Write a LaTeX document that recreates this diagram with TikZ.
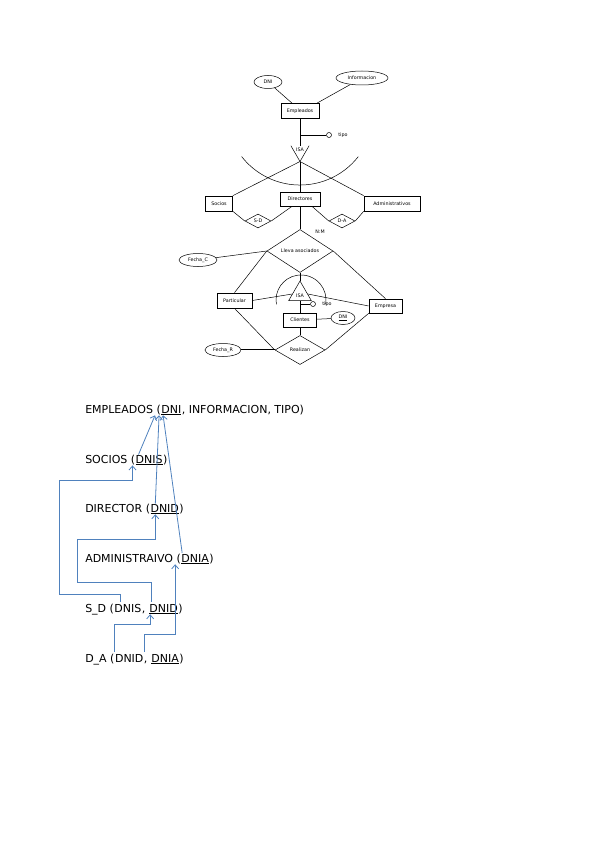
\documentclass[tikz,border=0pt]{standalone}
\usepackage{fontspec}
\setmainfont{DejaVu Sans}
\usetikzlibrary{shapes,arrows.meta,positioning,calc}
\definecolor{azul}{HTML}{4F81BD}
\newcommand{\ertext}{\fontsize{4.8}{5.5}\selectfont}
\newcommand{\reltext}{\fontsize{11}{13}\selectfont}
\tikzset{
  entidad/.style={draw, rectangle, inner sep=0.5pt, font=\ertext, line width=0.7pt},
  atributo/.style={draw, ellipse, inner sep=0.5pt, font=\ertext, line width=0.5pt},
  relacion/.style={draw, diamond, aspect=2, inner sep=0.5pt, font=\ertext, line width=0.5pt},
  jerarquia/.style={regular polygon, regular polygon sides=3, inner sep=0pt, font=\ertext, line width=0.5pt},
  tabla/.style={font=\reltext, inner sep=0pt, anchor=base west},
  fk/.style={draw=azul, line width=0.8pt, -{Straight Barb[length=4pt,width=7pt]}},
}

\begin{document}
\begin{tikzpicture}[x=1pt, y=-1pt, line width=0.5pt]
\useasboundingbox (0,0) rectangle (599,848);

% modelo entidad-relacion
\node[entidad, minimum width=38pt, minimum height=15pt] (emp) at (300,111) {Empleados};
\node[atributo, minimum width=28pt, minimum height=13pt] (dni) at (268,82) {DNI};
\node[atributo, minimum width=52pt, minimum height=14pt] (info) at (362,78) {Informacion};
\node[draw, circle, inner sep=0pt, minimum size=5pt] (tipo) at (329,135) {};
\node[font=\ertext, right=3pt of tipo] (tipot) {tipo};
\node[jerarquia, minimum size=20pt, shape border rotate=180] (isa) at (300,151) {};
\node[font=\ertext] (isat) at (300,150) {ISA};
\node[entidad, minimum width=27pt, minimum height=15pt] (soc) at (219,203.5) {Socios};
\node[entidad, minimum width=40pt, minimum height=14pt] (dir) at (300,199) {Directores};
\node[entidad, minimum width=56pt, minimum height=15pt] (adm) at (392,203.5) {Administrativos};
\node[relacion, minimum width=26pt, minimum height=14pt] (sd) at (258,221) {S-D};
\node[relacion, minimum width=26pt, minimum height=14pt] (da) at (342,221) {D-A};
\node[relacion, minimum width=66pt, minimum height=43pt] (lleva) at (300,251) {Lleva asociados};
\node[font=\ertext] (card) at (320,232) {N:M};
\node[atributo, minimum width=38pt, minimum height=13pt] (fechac) at (198,260) {Fecha\_C};
\node[jerarquia, draw, minimum size=26pt] (isab) at (300,294) {};
\node[font=\ertext] (isabt) at (300,296) {ISA};
\node[entidad, minimum width=35pt, minimum height=15pt] (part) at (234.5,300.5) {Particular};
\node[entidad, minimum width=33pt, minimum height=14pt] (empr) at (385.5,306) {Empresa};
\node[draw, circle, inner sep=0pt, minimum size=5pt] (tipob) at (313,304) {};
\node[font=\ertext, right=3pt of tipob] (tipobt) {tipo};
\node[entidad, minimum width=33pt, minimum height=14pt] (cli) at (300,320) {Clientes};
\node[atributo, minimum width=24pt, minimum height=13pt] (dnic) at (343,318) {\underline{DNI}};
\node[relacion, minimum width=50pt, minimum height=29pt] (real) at (300,350) {Realizan};
\node[atributo, minimum width=36pt, minimum height=13pt] (fechar) at (223,350) {Fecha\_R};

\draw (dni) -- ([xshift=-8pt]emp.north);
\draw (info) -- ([xshift=17pt]emp.north);
\draw (emp.south) -- (isa.north);
\draw (emp.south |- tipo) -- (tipo);
\draw (isa.corner 2) -- (isa.corner 1) -- (isa.corner 3);
\draw (isa.corner 1) -- (soc.north east);
\draw (isa.corner 1) -- (adm.north west);
\draw (isa.corner 1) -- (dir.north);
\draw (358.3,156.6) arc[start angle=38, end angle=142, radius=74];
\draw (soc.south east) -- (sd.west);
\draw (sd.east) -- ([xshift=-8pt]dir.south);
\draw ([xshift=12pt]dir.south) -- (da.west);
\draw (da.east) -- (adm.south west);
\draw (dir.south) -- (lleva.north);
\draw (fechac) -- (lleva.west);
\draw (lleva.west) -- (part.north);
\draw (lleva.east) -- (empr.north);
\draw (lleva.south) -- (isab.north);
\draw (276.4,304.3) arc[start angle=170, end angle=370, radius=25];
\draw (isab.west) -- (part.east);
\draw (isab.east) -- (empr.west);
\draw (isab.south) -- (cli.north);
\draw (isab.south |- tipob) -- (tipob);
\draw (cli) -- (dnic);
\draw (cli.south) -- (real.north);
\draw (part.south) -- (real.west);
\draw (empr.south west) -- (real.east);
\draw[double, double distance=0.8pt] (fechar) -- (real.west);

% modelo relacional
\node[tabla] (e0) at (85,413) {EMPLEADOS (};
\node[tabla] (eDNI) at (e0.base east) {\underline{DNI}};
\node[tabla] (e1) at (eDNI.base east) {, INFORMACION, TIPO)};
\node[tabla] (s0) at (85,463) {SOCIOS (};
\node[tabla] (sDNIS) at (s0.base east) {\underline{DNIS}};
\node[tabla] (s1) at (sDNIS.base east) {)};
\node[tabla] (d0) at (85,512) {DIRECTOR (};
\node[tabla] (dDNID) at (d0.base east) {\underline{DNID}};
\node[tabla] (d1) at (dDNID.base east) {)};
\node[tabla] (a0) at (85,562) {ADMINISTRAIVO (};
\node[tabla] (aDNIA) at (a0.base east) {\underline{DNIA}};
\node[tabla] (a1) at (aDNIA.base east) {)};
\node[tabla] (sd0) at (85,612) {S\_D (};
\node[tabla] (sdDNIS) at (sd0.base east) {DNIS};
\node[tabla] (sd1) at (sdDNIS.base east) {,\kern3.5pt};
\node[tabla] (sdDNID) at (sd1.base east) {\underline{DNID}};
\node[tabla] (sd2) at (sdDNID.base east) {)};
\node[tabla] (da0) at (85,662) {D\_A (};
\node[tabla] (daDNID) at (da0.base east) {DNID};
\node[tabla] (da1) at (daDNID.base east) {,\kern3.5pt};
\node[tabla] (daDNIA) at (da1.base east) {\underline{DNIA}};
\node[tabla] (da2) at (daDNIA.base east) {)};

\draw[fk] ([xshift=3pt]sDNIS.north west) -- ([xshift=-6pt]eDNI.south west);
\draw[fk] ([xshift=5pt]dDNID.north west) -- ([xshift=-2pt]eDNI.south west);
\draw[fk] ([xshift=1pt,yshift=1pt]aDNIA.north west) -- ([xshift=2pt]eDNI.south west);
\draw[fk] ([xshift=6pt,yshift=2pt]sdDNIS.north west) -- ++(0,-7) -| (59,480) -| ([xshift=-3pt]sDNIS.south west);
\draw[fk] ([xshift=2pt,yshift=2pt]sdDNID.north west) -- ++(0,-19) -| (77,539) -| ([xshift=5pt]dDNID.south west);
\draw[fk] ([yshift=2pt]daDNID.north west) -- ++(0,-27) -| ([xshift=1pt]sdDNID.south west);
\draw[fk] ([xshift=-7pt,yshift=2pt]daDNIA.north west) -- ++(0,-17) -| ([xshift=-6pt]aDNIA.south west);
\end{tikzpicture}
\end{document}
